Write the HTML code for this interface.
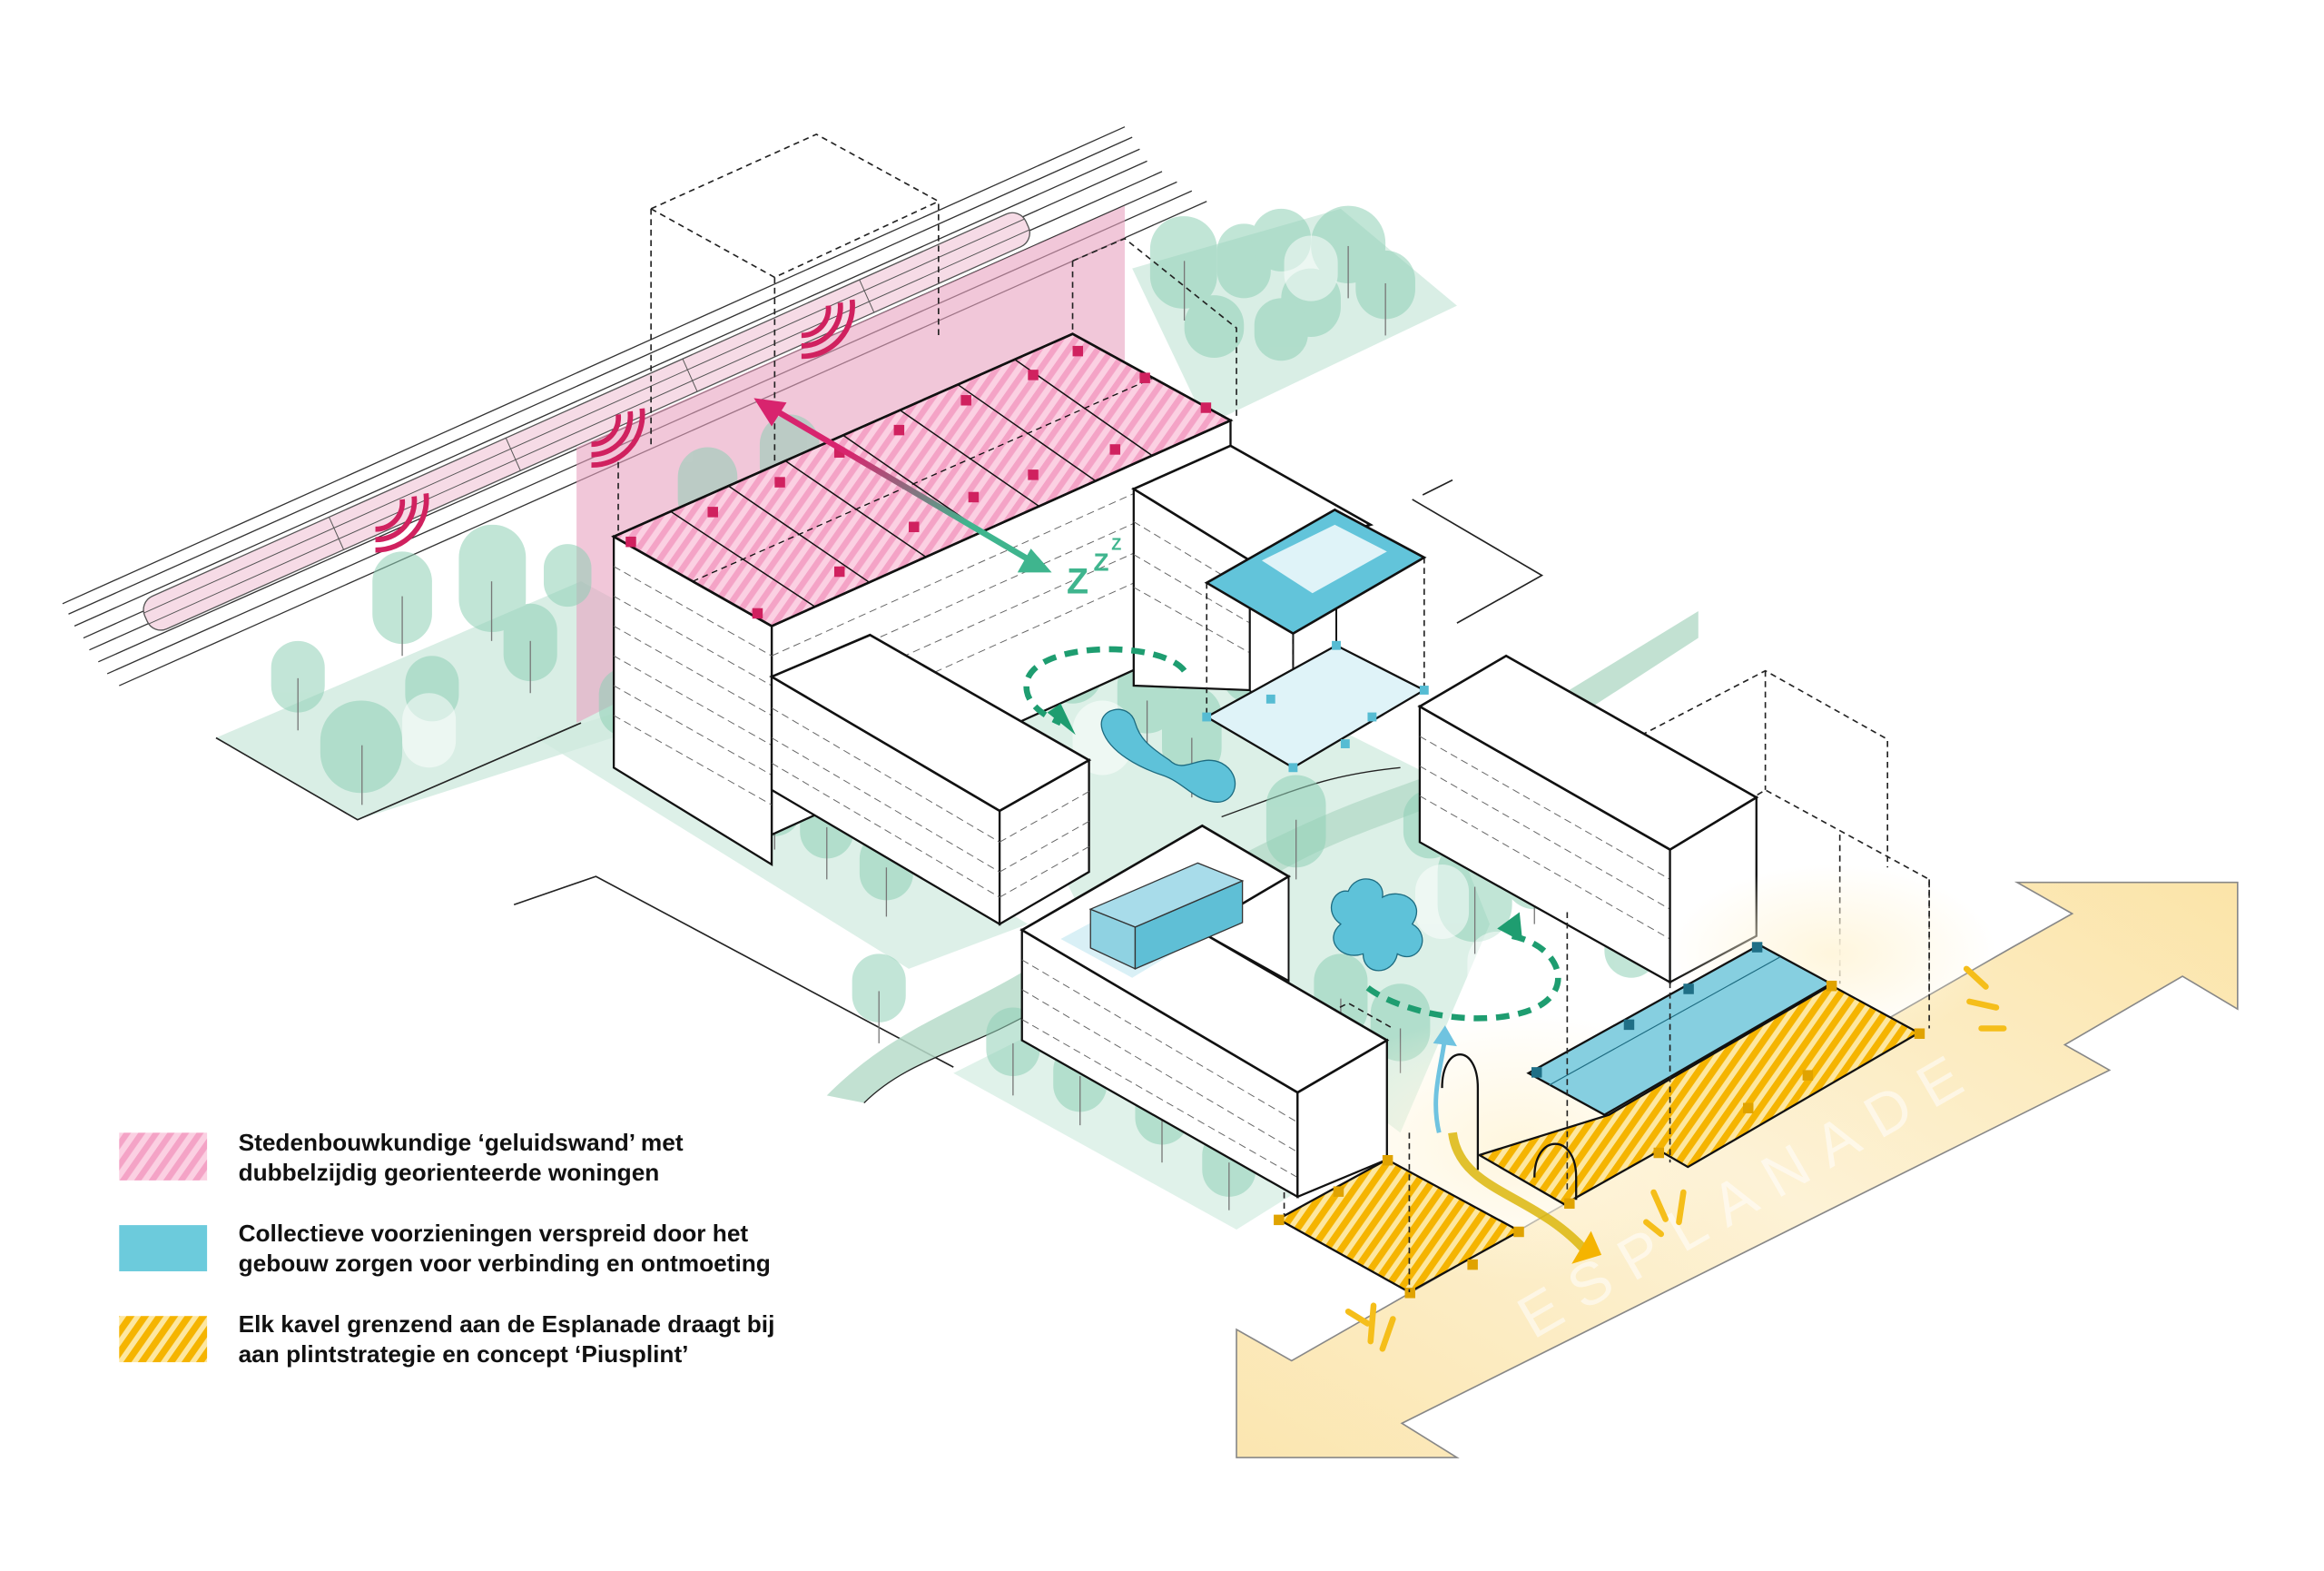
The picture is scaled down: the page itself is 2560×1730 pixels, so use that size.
<!DOCTYPE html>
<html><head><meta charset="utf-8"><style>
html,body{margin:0;padding:0;background:#fff}
svg{display:block}
</style></head><body>
<svg width="2560" height="1730" viewBox="0 0 1560 1054" xmlns="http://www.w3.org/2000/svg" font-family="Liberation Sans, sans-serif">
<defs>
<pattern id="pk" patternUnits="userSpaceOnUse" width="8" height="8" patternTransform="rotate(35)"><rect width="8" height="8" fill="#fbd0e2"/><rect width="4" height="8" fill="#f4a3c6"/></pattern>
<pattern id="yl" patternUnits="userSpaceOnUse" width="8" height="8" patternTransform="rotate(35)"><rect width="8" height="8" fill="#fde7a0"/><rect width="4.5" height="8" fill="#f5b400"/></pattern>
<linearGradient id="esp" x1="0" y1="1" x2="1" y2="0"><stop offset="0" stop-color="#fbe6b0"/><stop offset="0.5" stop-color="#fdf2d6"/><stop offset="1" stop-color="#fbe4a8"/></linearGradient>
<linearGradient id="arr" x1="0" y1="0" x2="1" y2="1"><stop offset="0.3" stop-color="#d8246e"/><stop offset="0.75" stop-color="#3fb58e"/></linearGradient>
<radialGradient id="glow" cx="0.5" cy="0.5" r="0.5"><stop offset="0" stop-color="#fff6dd"/><stop offset="1" stop-color="#fff6dd" stop-opacity="0"/></radialGradient>
</defs>
<rect width="1560" height="1054" fill="#fff"/>

<!-- rail lines -->
<g stroke="#333" stroke-width="0.8" fill="none">
<line x1="42" y1="405" x2="755" y2="85"/>
<line x1="46" y1="412" x2="760" y2="92"/>
<line x1="50" y1="420" x2="765" y2="100"/>
<line x1="56" y1="428" x2="770" y2="108"/>
<line x1="60" y1="436" x2="780" y2="115"/>
<line x1="66" y1="444" x2="790" y2="122"/>
<line x1="72" y1="452" x2="800" y2="128"/>
<line x1="80" y1="460" x2="810" y2="135"/>
</g>
<!-- train -->
<g transform="translate(98,415) rotate(-24.1)">
<rect x="0" y="-12" width="648" height="24" rx="10" fill="#f6dbe6" stroke="#555" stroke-width="0.8"/>
<g stroke="#555" stroke-width="0.6"><line x1="0" y1="-4" x2="648" y2="-4"/><line x1="0" y1="4" x2="648" y2="4"/>
<line x1="140" y1="-12" x2="140" y2="12"/><line x1="270" y1="-12" x2="270" y2="12"/><line x1="400" y1="-12" x2="400" y2="12"/><line x1="530" y1="-12" x2="530" y2="12"/></g>
</g>

<!-- ground planes -->
<polygon points="145,495 390,390 520,460 240,550" fill="#cfeade" opacity="0.8"/>
<polygon points="760,180 900,140 978,205 810,285" fill="#cfeade" opacity="0.8"/>
<polygon points="360,495 440,470 690,620 610,650" fill="#cfeade" opacity="0.7"/>
<polygon points="660,460 760,420 960,520 1000,620 940,760 860,700 740,640 700,560" fill="#d3ece1" opacity="0.8"/>
<polygon points="640,720 700,690 870,800 830,825" fill="#d3ece1" opacity="0.7"/>

<!-- lot outlines -->
<g stroke="#222" stroke-width="1" fill="none">
<polyline points="345,607 400,588 640,716"/>
<polyline points="955,332 975,322"/>
<polyline points="948,335 1035,386 978,418"/>
<polyline points="145,495 240,550 390,485"/>
</g>

<!-- pink wall -->
<polygon points="387,300 755,138 755,300 387,485" fill="#e7a2bf" opacity="0.6"/>

<!-- green path band -->
<path d="M555,735 C600,690 640,680 690,650 C740,620 780,600 840,570 C900,540 920,535 960,520 L1140,410 L1140,428 L975,535 C930,555 900,560 850,590 C790,620 750,640 700,675 C650,705 610,710 580,740 Z" fill="#b7dcca" opacity="0.85"/>
<path d="M580,740 C610,710 650,705 700,675 C750,640 790,620 850,590" stroke="#222" stroke-width="0.8" fill="none"/>
<path d="M820,548 C870,530 890,520 940,515" stroke="#222" stroke-width="0.8" fill="none"/>

<!-- trees -->
<g fill="#8fd0b6" opacity="0.55">
<rect x="182" y="430" width="36" height="48" rx="18"/><rect x="215" y="470" width="55" height="62" rx="27"/>
<rect x="250" y="370" width="40" height="62" rx="20"/><rect x="272" y="440" width="36" height="44" rx="18"/>
<rect x="308" y="352" width="45" height="72" rx="22"/><rect x="338" y="405" width="36" height="52" rx="18"/>
<rect x="365" y="365" width="32" height="42" rx="16"/><rect x="402" y="448" width="36" height="46" rx="18"/>
<rect x="440" y="475" width="40" height="52" rx="20"/><rect x="502" y="515" width="36" height="46" rx="18"/>
<rect x="537" y="530" width="36" height="46" rx="18"/><rect x="577" y="558" width="36" height="46" rx="18"/>
<rect x="772" y="145" width="45" height="62" rx="22"/><rect x="817" y="150" width="36" height="50" rx="18"/>
<rect x="840" y="140" width="40" height="42" rx="20"/><rect x="880" y="138" width="50" height="52" rx="25"/>
<rect x="910" y="168" width="40" height="46" rx="20"/><rect x="860" y="180" width="40" height="46" rx="20"/>
<rect x="795" y="198" width="40" height="42" rx="20"/><rect x="842" y="200" width="36" height="42" rx="18"/>
<rect x="655" y="392" width="50" height="72" rx="25"/><rect x="700" y="420" width="40" height="52" rx="20"/>
<rect x="750" y="440" width="40" height="52" rx="20"/><rect x="780" y="460" width="40" height="62" rx="20"/>
<rect x="820" y="420" width="40" height="52" rx="20"/><rect x="942" y="530" width="36" height="46" rx="18"/>
<rect x="965" y="560" width="50" height="72" rx="25"/><rect x="1010" y="548" width="40" height="62" rx="20"/>
<rect x="1077" y="610" width="36" height="46" rx="18"/><rect x="882" y="640" width="36" height="56" rx="18"/>
<rect x="920" y="660" width="40" height="52" rx="20"/><rect x="572" y="640" width="36" height="46" rx="18"/>
<rect x="662" y="676" width="36" height="46" rx="18"/><rect x="707" y="700" width="36" height="46" rx="18"/>
<rect x="762" y="722" width="36" height="46" rx="18"/><rect x="807" y="757" width="36" height="46" rx="18"/>
<rect x="850" y="520" width="40" height="62" rx="20"/><rect x="1000" y="510" width="40" height="62" rx="20"/>
<rect x="455" y="300" width="40" height="55" rx="20"/><rect x="510" y="278" width="40" height="55" rx="20"/>
</g>
<g fill="#ffffff" opacity="0.5">
<rect x="270" y="465" width="36" height="50" rx="18"/><rect x="720" y="470" width="40" height="50" rx="20"/>
<rect x="950" y="580" width="36" height="50" rx="18"/><rect x="985" y="625" width="40" height="50" rx="20"/>
<rect x="862" y="158" width="36" height="44" rx="18"/>
</g>
<g stroke="#777" stroke-width="0.8">
<line x1="200" y1="455" x2="200" y2="490"/><line x1="243" y1="500" x2="243" y2="540"/><line x1="270" y1="400" x2="270" y2="440"/>
<line x1="330" y1="390" x2="330" y2="430"/><line x1="356" y1="430" x2="356" y2="465"/><line x1="420" y1="470" x2="420" y2="505"/>
<line x1="460" y1="500" x2="460" y2="535"/><line x1="520" y1="540" x2="520" y2="570"/><line x1="555" y1="555" x2="555" y2="590"/>
<line x1="595" y1="582" x2="595" y2="615"/><line x1="795" y1="175" x2="795" y2="215"/><line x1="905" y1="165" x2="905" y2="200"/>
<line x1="930" y1="190" x2="930" y2="225"/><line x1="680" y1="430" x2="680" y2="480"/><line x1="770" y1="470" x2="770" y2="510"/>
<line x1="800" y1="495" x2="800" y2="535"/><line x1="990" y1="595" x2="990" y2="640"/><line x1="1030" y1="580" x2="1030" y2="620"/>
<line x1="900" y1="670" x2="900" y2="705"/><line x1="940" y1="690" x2="940" y2="720"/><line x1="590" y1="665" x2="590" y2="700"/>
<line x1="680" y1="700" x2="680" y2="735"/><line x1="725" y1="722" x2="725" y2="755"/><line x1="780" y1="745" x2="780" y2="780"/>
<line x1="825" y1="780" x2="825" y2="812"/><line x1="870" y1="550" x2="870" y2="590"/>
</g>

<!-- dashed volumes -->
<g stroke="#222" stroke-width="1" stroke-dasharray="4,3" fill="none">
<polyline points="437,140 548,90 630,135 630,225"/>
<polyline points="437,140 437,300"/><polyline points="437,140 520,186 630,135"/><line x1="520" y1="186" x2="520" y2="330"/>
<polyline points="720,175 755,160 830,220 830,280"/>
<polyline points="720,175 720,224"/>
<line x1="415" y1="310" x2="415" y2="360"/>
<polyline points="1052,519 1185,450 1267,496 1267,582"/>
<line x1="1052" y1="519" x2="1052" y2="612"/>
<polyline points="1120,570 1185,530 1295,590 1295,690"/>
<line x1="1185" y1="450" x2="1185" y2="530"/>
<polyline points="862,695 905,673 935,690"/><line x1="862" y1="695" x2="862" y2="818"/>
<line x1="1235" y1="560" x2="1235" y2="660"/>
</g>

<!-- Block A -->
<polygon points="518,420 826,282 826,420 518,560" fill="#fff" stroke="#111" stroke-width="1.4"/>
<polygon points="412,360 518,420 518,580 412,515" fill="#fff" stroke="#111" stroke-width="1.4"/>
<g stroke="#666" stroke-width="0.6" stroke-dasharray="5,3">
<line x1="412" y1="380" x2="518" y2="440"/><line x1="412" y1="400" x2="518" y2="460"/><line x1="412" y1="420" x2="518" y2="480"/><line x1="412" y1="440" x2="518" y2="500"/><line x1="412" y1="460" x2="518" y2="520"/><line x1="412" y1="480" x2="518" y2="540"/>
<line x1="518" y1="440" x2="826" y2="302"/><line x1="518" y1="460" x2="826" y2="322"/><line x1="518" y1="480" x2="826" y2="342"/><line x1="518" y1="500" x2="826" y2="362"/>
</g>
<polygon points="412,360 720,224 826,282 518,420" fill="#fff" stroke="#111" stroke-width="1.6"/>
<polygon points="412,360 720,224 826,282 795,296 545,408 518,420" fill="url(#pk)"/>
<polygon points="412,360 720,224 826,282 518,420" fill="none" stroke="#111" stroke-width="1.6"/>
<g stroke="#111" stroke-width="0.9">
<line x1="450" y1="343" x2="547" y2="407"/><line x1="489" y1="326" x2="584" y2="391"/><line x1="527" y1="309" x2="622" y2="374"/>
<line x1="566" y1="292" x2="660" y2="357"/><line x1="604" y1="275" x2="698" y2="340"/><line x1="643" y1="258" x2="736" y2="323"/>
<line x1="681" y1="241" x2="774" y2="306"/>
</g>
<line x1="465" y1="390" x2="773" y2="254" stroke="#111" stroke-width="0.8" stroke-dasharray="4,3"/>
<g fill="#d0215f">
<rect x="420" y="360" width="7" height="7"/><rect x="505" y="408" width="7" height="7"/>
<rect x="475" y="340" width="7" height="7"/><rect x="560" y="380" width="7" height="7"/>
<rect x="520" y="320" width="7" height="7"/><rect x="610" y="350" width="7" height="7"/>
<rect x="560" y="300" width="7" height="7"/><rect x="650" y="330" width="7" height="7"/>
<rect x="600" y="285" width="7" height="7"/><rect x="690" y="315" width="7" height="7"/>
<rect x="645" y="265" width="7" height="7"/><rect x="745" y="298" width="7" height="7"/>
<rect x="690" y="248" width="7" height="7"/><rect x="765" y="250" width="7" height="7"/><rect x="806" y="270" width="7" height="7"/><rect x="720" y="232" width="7" height="7"/>
</g>

<!-- Block B -->
<polygon points="518,454 671,544 671,620 518,530" fill="#fff" stroke="#111" stroke-width="1.4"/>
<polygon points="671,544 731,510 731,585 671,620" fill="#fff" stroke="#111" stroke-width="1.4"/>
<g stroke="#666" stroke-width="0.6" stroke-dasharray="5,3">
<line x1="518" y1="475" x2="671" y2="565"/><line x1="518" y1="495" x2="671" y2="585"/><line x1="518" y1="512" x2="671" y2="602"/>
<line x1="671" y1="565" x2="731" y2="531"/><line x1="671" y1="585" x2="731" y2="551"/><line x1="671" y1="602" x2="731" y2="568"/>
</g>
<polygon points="518,454 584,426 731,510 671,544" fill="#fff" stroke="#111" stroke-width="1.6"/>

<!-- Block C -->
<polygon points="761,328 839,376 839,463 761,460" fill="#fff" stroke="#111" stroke-width="1.4"/>
<g stroke="#666" stroke-width="0.6" stroke-dasharray="5,3">
<line x1="761" y1="350" x2="839" y2="397"/><line x1="761" y1="372" x2="839" y2="418"/><line x1="761" y1="394" x2="839" y2="438"/>
</g>
<polygon points="761,328 826,299 920,352 839,376" fill="#fff" stroke="#111" stroke-width="1.6"/>
<polygon points="839,376 868,425 868,515 839,463" fill="#fff" stroke="#111" stroke-width="1.2"/>
<line x1="897" y1="390" x2="897" y2="433" stroke="#111" stroke-width="1.2"/>
<g stroke="#222" stroke-width="1" stroke-dasharray="4,3"><line x1="810" y1="391" x2="810" y2="481"/><line x1="956" y1="374" x2="956" y2="463"/><line x1="868" y1="425" x2="868" y2="515"/></g>
<polygon points="810,481 897,433 956,463 868,515" fill="#dff3f8" stroke="#111" stroke-width="1.4"/>
<g fill="#56bcd3"><rect x="807" y="478" width="6" height="6"/><rect x="894" y="430" width="6" height="6"/><rect x="953" y="460" width="6" height="6"/><rect x="865" y="512" width="6" height="6"/><rect x="850" y="466" width="6" height="6"/><rect x="918" y="478" width="6" height="6"/><rect x="900" y="496" width="6" height="6"/></g>
<polygon points="810,391 896,342 956,374 868,425" fill="#62c4da" stroke="#111" stroke-width="1.6"/>
<polygon points="847,376 896,352 931,370 881,398" fill="#dff3f8"/>

<!-- Block D -->
<polygon points="953,474 1121,570 1121,659 953,565" fill="#fff" stroke="#111" stroke-width="1.4"/>
<g stroke="#666" stroke-width="0.6" stroke-dasharray="5,3">
<line x1="953" y1="494" x2="1121" y2="590"/><line x1="953" y1="514" x2="1121" y2="610"/><line x1="953" y1="534" x2="1121" y2="630"/>
</g>
<polygon points="1121,570 1179,535 1179,628 1121,659" fill="#fff" stroke="#111" stroke-width="1.4"/>
<polygon points="953,474 1011,440 1179,535 1121,570" fill="#fff" stroke="#111" stroke-width="1.6"/>

<!-- Esplanade -->
<polygon points="830,978 978,978 941,955 1416,718 1386,701 1465,655 1502,677 1502,592 1354,592 1391,613 1350,636 909,889 867,913 830,892" fill="url(#esp)" stroke="#888" stroke-width="1"/>
<ellipse cx="1020" cy="770" rx="150" ry="90" fill="url(#glow)"/>
<ellipse cx="1230" cy="640" rx="110" ry="60" fill="url(#glow)"/>
<text x="0" y="0" transform="translate(1180,812) rotate(-30)" text-anchor="middle" font-size="40" letter-spacing="12" fill="#ffffff" opacity="0.55">ESPLANADE</text>

<!-- Block E -->
<polygon points="686,624 871,733 871,803 686,698" fill="#fff" stroke="#111" stroke-width="1.4"/>
<g stroke="#666" stroke-width="0.6" stroke-dasharray="5,3">
<line x1="686" y1="644" x2="871" y2="753"/><line x1="686" y1="664" x2="871" y2="773"/><line x1="686" y1="684" x2="871" y2="790"/>
</g>
<polygon points="871,733 931,698 931,778 871,803" fill="#fff" stroke="#111" stroke-width="1.4"/>
<polygon points="804,624 865,588 865,658" fill="#fff" stroke="#111" stroke-width="1.2"/>
<polygon points="686,624 807,554 865,588 804,624 931,698 871,733" fill="#fff" stroke="#111" stroke-width="1.6"/>
<polygon points="712,630 775,596 820,620 760,656" fill="#d9f0f6"/>
<polygon points="732,636 762,650 762,622 732,610" fill="#8fd2e2" stroke="#333" stroke-width="0.8"/>
<polygon points="762,622 834,591 834,619 762,650" fill="#5fbfd6" stroke="#333" stroke-width="0.8"/>
<polygon points="732,610 804,579 834,591 762,622" fill="#a8dcea" stroke="#333" stroke-width="0.8"/>

<!-- plots -->
<polygon points="858,818 931,778 1020,826 946,867" fill="url(#yl)" stroke="#111" stroke-width="1.4"/>
<polygon points="993,775 1080,748 1229,661 1288,693 1133,783 1114,772 1050,808" fill="url(#yl)" stroke="#111" stroke-width="1.4"/>
<polygon points="1026,720 1181,634 1229,660 1077,748" fill="#86cfe0" stroke="#111" stroke-width="1.4"/>
<g stroke="#1d6b80" stroke-width="0.7">
<line x1="1040" y1="728" x2="1195" y2="642"/>
</g>
<g fill="#1f6f86"><rect x="1028" y="716" width="7" height="7"/><rect x="1090" y="684" width="7" height="7"/><rect x="1130" y="660" width="7" height="7"/><rect x="1176" y="632" width="7" height="7"/></g>
<g fill="#e0a300"><rect x="855" y="815" width="7" height="7"/><rect x="928" y="775" width="7" height="7"/><rect x="1016" y="823" width="7" height="7"/><rect x="943" y="864" width="7" height="7"/><rect x="895" y="796" width="7" height="7"/><rect x="985" y="845" width="7" height="7"/><rect x="1050" y="804" width="7" height="7"/><rect x="1110" y="770" width="7" height="7"/><rect x="1226" y="658" width="7" height="7"/><rect x="1285" y="690" width="7" height="7"/><rect x="1170" y="740" width="7" height="7"/><rect x="1210" y="718" width="7" height="7"/></g>
<g stroke="#222" stroke-width="1" stroke-dasharray="4,3" fill="none">
<line x1="1052" y1="612" x2="1052" y2="800"/><line x1="1121" y1="659" x2="1121" y2="780"/><line x1="946" y1="760" x2="946" y2="867"/><line x1="1295" y1="590" x2="1295" y2="690"/>
</g>
<!-- curly paths -->
<path d="M968,730 C968,700 992,700 992,730 L992,785" stroke="#111" stroke-width="1.4" fill="none"/>
<path d="M1030,790 C1030,760 1058,760 1058,790 L1058,805" stroke="#111" stroke-width="1.4" fill="none"/>
<path d="M975,760 C980,800 1030,800 1065,840" stroke="#d9b300" stroke-width="6" fill="none" opacity="0.8"/>
<polygon points="1055,848 1075,842 1068,826" fill="#f5b400"/>
<path d="M966,760 C960,735 968,715 970,695" stroke="#6fc3e0" stroke-width="3" fill="none"/>
<polygon points="962,700 970,688 978,702" fill="#6fc3e0"/>
<!-- yellow bursts -->
<g stroke="#f5be1a" stroke-width="4" stroke-linecap="round">
<line x1="905" y1="880" x2="918" y2="888"/><line x1="922" y1="876" x2="920" y2="900"/><line x1="935" y1="885" x2="928" y2="905"/>
<line x1="1320" y1="650" x2="1333" y2="662"/><line x1="1322" y1="672" x2="1340" y2="676"/><line x1="1330" y1="690" x2="1345" y2="690"/>
<line x1="1110" y1="800" x2="1118" y2="818"/><line x1="1130" y1="800" x2="1127" y2="820"/><line x1="1105" y1="820" x2="1115" y2="828"/>
</g>

<!-- blobs -->
<path d="M740,490 C735,475 758,470 762,485 C765,495 770,500 785,510 C795,520 805,505 820,512 C835,520 830,540 815,538 C800,536 795,525 780,520 C765,515 745,505 740,490 Z" fill="#5ec2d9" stroke="#1d6b80" stroke-width="0.8"/>
<path d="M905,598 C910,585 930,588 928,602 C940,595 958,605 948,620 C962,628 952,648 938,640 C935,655 915,655 915,640 C900,645 888,630 900,620 C888,612 895,596 905,598 Z" fill="#5ec2d9" stroke="#1d6b80" stroke-width="0.8"/>

<!-- green dashed loops -->
<path d="M795,450 C780,430 700,430 690,455 C685,470 700,480 712,485" stroke="#1e9d70" stroke-width="4" stroke-dasharray="9,6" fill="none"/>
<polygon points="703,478 722,493 712,472" fill="#1e9d70"/>
<path d="M1015,628 C1050,635 1060,670 1020,680 C980,690 930,675 915,660" stroke="#1e9d70" stroke-width="4" stroke-dasharray="9,6" fill="none"/>
<polygon points="1005,623 1020,612 1022,632" fill="#1e9d70"/>

<!-- pink/green double arrow -->
<line x1="515" y1="272" x2="695" y2="378" stroke="url(#arr)" stroke-width="4"/>
<polygon points="506,267 528,270 518,286" fill="#d8246e"/>
<polygon points="706,384 683,384 692,368" fill="#3fb58e"/>
<text x="716" y="398" font-size="24" font-weight="bold" fill="#3fb58e">Z</text>
<text x="734" y="383" font-size="17" font-weight="bold" fill="#3fb58e">Z</text>
<text x="746" y="369" font-size="11" font-weight="bold" fill="#3fb58e">Z</text>

<!-- sound icons -->
<g stroke="#d0215f" stroke-width="3.5" fill="none">
<path d="M270,335 A18,18 0 0 1 252,355"/><path d="M278,333 A26,26 0 0 1 252,362"/><path d="M286,331 A34,34 0 0 1 252,369"/>
<path d="M415,278 A18,18 0 0 1 397,298"/><path d="M423,276 A26,26 0 0 1 397,305"/><path d="M431,274 A34,34 0 0 1 397,312"/>
<path d="M556,205 A18,18 0 0 1 538,225"/><path d="M564,203 A26,26 0 0 1 538,232"/><path d="M572,201 A34,34 0 0 1 538,239"/>
</g>

<!-- legend -->
<rect x="80" y="760" width="59" height="32" fill="url(#pk)"/>
<rect x="80" y="822" width="59" height="31" fill="#6ccbdc"/>
<rect x="80" y="883" width="59" height="31" fill="url(#yl)"/>
<g font-size="16" font-weight="bold" fill="#111">
<text x="160" y="772">Stedenbouwkundige ‘geluidswand’ met</text>
<text x="160" y="792">dubbelzijdig georienteerde woningen</text>
<text x="160" y="833">Collectieve voorzieningen verspreid door het</text>
<text x="160" y="853">gebouw zorgen voor verbinding en ontmoeting</text>
<text x="160" y="894">Elk kavel grenzend aan de Esplanade draagt bij</text>
<text x="160" y="914">aan plintstrategie en concept ‘Piusplint’</text>
</g>
</svg>
</body></html>
